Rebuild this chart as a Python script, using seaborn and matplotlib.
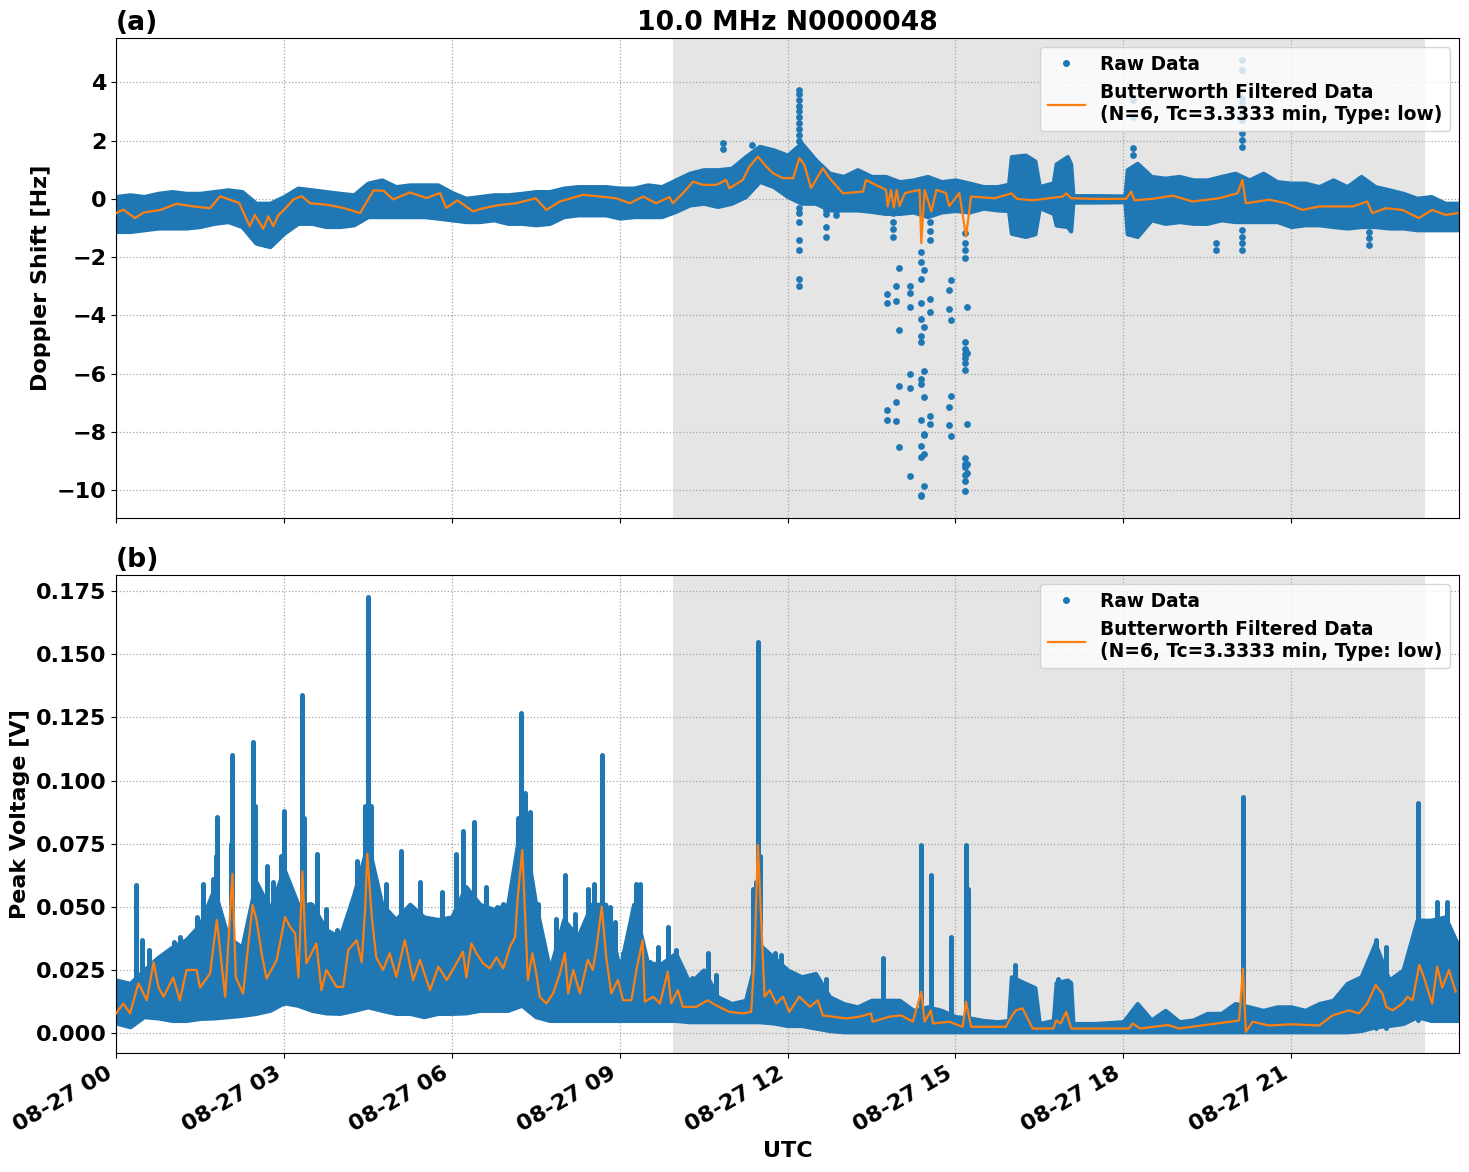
import numpy as np
import pandas as pd
import matplotlib
matplotlib.use("Agg")
import matplotlib.pyplot as plt
import matplotlib.dates as mdates
from matplotlib.lines import Line2D
import seaborn as sns

# ---------------- data ----------------
DAY = "2023-08-27"
TITLE = "10.0 MHz N0000048"
DAYLIGHT = (9.96, 23.39)  # shaded interval, hours UTC

# envelope of the raw Doppler data (hours, lower edge, upper edge)
dop_band_t = list(np.arange(64) * 0.25) + [15.95, 16.0, 16.25, 16.42, 16.5, 16.75, 16.8, 17.0, 17.06,
                                           17.1, 17.5, 18.03, 18.07, 18.25] + list(18.5 + np.arange(23) * 0.25)
dop_hi = [0.08, 0.14, 0.08, 0.19, 0.25, 0.19, 0.19, 0.25, 0.31, 0.25, -0.15, -0.15, 0.08,
          0.37, 0.31, 0.25, 0.19, 0.14, 0.54, 0.65, 0.42, 0.48, 0.48, 0.48, 0.22,
          0.02, 0.08, 0.14, 0.14, 0.19, 0.25, 0.25, 0.37, 0.42, 0.42, 0.42, 0.37,
          0.37, 0.48, 0.42, 0.65, 0.88, 1.0, 1.0, 1.05, 1.45, 1.8, 1.68, 1.5,
          1.91, 1.34, 0.88, 0.77, 1.0, 0.77, 0.77, 0.59, 0.65, 0.77, 0.59, 0.65,
          0.54, 0.42, 0.42,
          0.5, 1.45, 1.5, 1.3, 0.42, 0.55, 1.2, 1.45, 1.2, 0.11, 0.11, 0.1, 1.0, 1.22,
          0.77, 0.71, 0.77, 0.65, 0.65, 0.77, 0.88, 0.65, 0.88, 0.59, 0.54, 0.54,
          0.42, 0.65, 0.42, 0.77, 0.42, 0.31, 0.19, 0.02, 0.08, -0.15, -0.15]
dop_lo = [-1.12, -1.12, -1.06, -1.0, -1.0, -1.0, -0.95, -0.84, -0.78, -0.95, -1.52, -1.64, -1.18,
          -0.84, -0.84, -0.95, -0.95, -0.89, -0.61, -0.61, -0.61, -0.61, -0.61, -0.66, -0.72,
          -0.78, -0.78, -0.72, -0.84, -0.84, -0.89, -0.84, -0.61, -0.55, -0.55, -0.55, -0.66,
          -0.61, -0.61, -0.61, -0.43, -0.21, -0.15, -0.26, -0.15, 0.08, 0.6, 0.42, 0.08,
          -0.15, -0.15, -0.38, -0.38, -0.38, -0.43, -0.5, -0.5, -0.45, -0.61, -0.45, -0.4,
          -0.45, -0.32, -0.38,
          -0.4, -1.18, -1.29, -1.2, -0.3, -0.5, -0.9, -0.95, -1.1, -0.11, -0.11, -0.1, -1.2, -1.29,
          -0.72, -0.84, -0.78, -0.84, -0.84, -0.72, -0.78, -0.78, -0.78, -0.78, -0.95, -0.89,
          -0.89, -0.95, -1.0, -0.95, -0.95, -1.0, -1.0, -1.06, -1.06, -1.06, -1.06]

# envelope of the raw voltage data (hours, lower edge, upper edge)
volt_band_t = list(np.arange(64) * 0.25) + [15.95, 16.0, 16.25, 16.42, 16.5, 16.75, 16.8, 17.0, 17.06,
                                            17.1, 17.5, 18.0] + list(18.25 + np.arange(24) * 0.25)
volt_hi = [0.021, 0.0197, 0.025, 0.030, 0.034, 0.037, 0.043, 0.057, 0.038, 0.034, 0.060, 0.049, 0.065,
           0.051, 0.051, 0.041, 0.038, 0.055, 0.075, 0.051, 0.045, 0.051, 0.046, 0.045, 0.046,
           0.058, 0.051, 0.049, 0.051, 0.085, 0.051, 0.025, 0.045, 0.038, 0.051, 0.051, 0.025,
           0.051, 0.0276, 0.0276, 0.0316, 0.0197, 0.025, 0.0144, 0.0117, 0.013, 0.035, 0.030, 0.025,
           0.0223, 0.0236, 0.0144, 0.0117, 0.0104, 0.013, 0.013, 0.013, 0.009, 0.0104, 0.009, 0.0065,
           0.006, 0.005, 0.0045,
           0.005, 0.0223, 0.0197, 0.018, 0.0038, 0.005, 0.020, 0.021, 0.020, 0.0038, 0.0038, 0.0045,
           0.0117, 0.0052, 0.009, 0.0045, 0.0052, 0.0078, 0.0078, 0.0117, 0.0104, 0.009, 0.0104, 0.0104,
           0.009, 0.0117, 0.013, 0.0197, 0.0223, 0.0355, 0.021, 0.025, 0.0447, 0.0447, 0.046, 0.034]
volt_lo = [0.004, 0.0025, 0.0065, 0.006, 0.005, 0.005, 0.0058, 0.006, 0.0065, 0.007, 0.0078, 0.009, 0.012,
           0.011, 0.009, 0.008, 0.0078, 0.009, 0.0104, 0.009, 0.0078, 0.0078, 0.0065, 0.0078, 0.0078,
           0.008, 0.009, 0.009, 0.009, 0.011, 0.0065, 0.005, 0.005, 0.005, 0.005, 0.005, 0.005,
           0.005, 0.005, 0.005, 0.005, 0.0045, 0.0045, 0.0045, 0.0045, 0.0045, 0.0045, 0.004, 0.003,
           0.003, 0.002, 0.001, 0.0005, 0.0005, 0.0005, 0.0005, 0.0005, 0.0005, 0.0005, 0.0005, 0.0005,
           0.0005, 0.0005, 0.0005,
           0.0005, 0.0005, 0.0005, 0.0005, 0.0005, 0.0005, 0.0005, 0.0005, 0.0005, 0.0005, 0.0005, 0.0005,
           0.0005, 0.0005, 0.0005, 0.0005, 0.0005, 0.0005, 0.0005, 0.0005, 0.0005, 0.0005, 0.0005, 0.0005,
           0.0005, 0.0005, 0.0005, 0.0005, 0.001, 0.0025, 0.003, 0.0038, 0.0065, 0.005, 0.005, 0.005]

# isolated raw Doppler points outside the main band
dop_out_t = [12.2] * 17 + [12.68] * 4 + [12.86] * 2 + [13.77] * 4 + [13.88] * 4 + [13.93] * 4 + [14.0] * 5 \
    + [14.18] * 6 + [14.39] * 14 + [14.43] * 8 + [14.55] * 7 + [14.89] * 4 + [14.93] * 4 \
    + [15.18] * 16 + [15.21] * 5 + [20.13] * 14 + [18.17] * 4 + [22.39] * 3 + [19.65] * 2 + [10.84] * 2 + [11.36]
dop_out_v = [3.74, 3.6, 3.4, 3.2, 3.0, 2.8, 2.6, 2.4, 2.2, 2.0, -0.3, -0.5, -0.8, -1.4, -1.75, -2.75, -2.99,
             -0.38, -0.51, -0.96, -1.3,
             -0.4, -0.55,
             -3.26, -3.57, -7.24, -7.58,
             -0.5, -0.8, -1.05, -1.3,
             -2.99, -3.5, -6.97, -7.62,
             -2.37, -4.5, -6.42, -8.51, -0.4,
             -2.99, -3.23, -3.71, -6.0, -6.49, -9.51,
             -1.82, -2.16, -2.75, -3.57, -4.12, -4.7, -4.91, -6.18, -6.35, -7.58, -8.48, -8.85, -10.16, -10.19,
             -2.44, -4.39, -5.9, -6.79, -8.06, -8.1, -8.75, -9.85,
             -3.43, -3.88, -7.45, -7.72, -0.8, -1.1, -1.4,
             -3.12, -3.77, -7.14, -7.76,
             -2.78, -4.15, -6.76, -8.13,
             -1.17, -1.5, -1.75, -2.02, -4.92, -5.16, -5.33, -5.47, -5.64, -5.88, -8.9, -9.1, -9.2, -9.48, -9.69, -10.03,
             -3.71, -5.3, -7.72, -9.1, -9.4,
             4.77, 4.43, 3.47, 3.33, 3.16, 2.95, 2.71, 2.26, 2.02, 1.78, -1.06, -1.3, -1.5, -1.75,
             3.4, 2.8, 1.75, 1.5,
             -1.13, -1.35, -1.58,
             -1.5, -1.75,
             1.9, 1.7, 1.85]

# narrow columns of raw voltage points: (hour, bottom, top)
volt_columns = [
    (0.36, 0.012, 0.0586), (0.47, 0.010, 0.037), (0.59, 0.010, 0.033), (1.04, 0.010, 0.036),
    (1.15, 0.010, 0.038), (1.45, 0.010, 0.046), (1.55, 0.010, 0.059), (1.68, 0.012, 0.040),
    (1.74, 0.012, 0.061), (1.78, 0.012, 0.070), (1.8, 0.012, 0.0857), (2.05, 0.012, 0.075),
    (2.08, 0.012, 0.110), (2.45, 0.012, 0.1154), (2.48, 0.012, 0.09), (2.7, 0.012, 0.066),
    (2.81, 0.012, 0.06), (2.95, 0.012, 0.07), (3.0, 0.012, 0.088), (3.33, 0.012, 0.1339),
    (3.36, 0.012, 0.085), (3.46, 0.012, 0.051), (3.6, 0.012, 0.071), (3.76, 0.012, 0.049),
    (3.94, 0.012, 0.041), (4.3, 0.012, 0.068), (4.45, 0.012, 0.09), (4.5, 0.012, 0.1728),
    (4.55, 0.012, 0.09), (4.83, 0.012, 0.059), (5.1, 0.012, 0.072), (5.43, 0.012, 0.060),
    (5.58, 0.012, 0.043), (5.83, 0.012, 0.056), (5.91, 0.012, 0.045), (6.07, 0.012, 0.071),
    (6.2, 0.012, 0.080), (6.39, 0.012, 0.0837), (6.62, 0.012, 0.058), (6.68, 0.012, 0.049),
    (6.8, 0.012, 0.050), (6.92, 0.012, 0.051), (7.04, 0.012, 0.052), (7.18, 0.012, 0.085),
    (7.24, 0.012, 0.1266), (7.3, 0.012, 0.095), (7.4, 0.012, 0.0877), (7.54, 0.010, 0.051),
    (7.87, 0.008, 0.045), (8.02, 0.008, 0.0626), (8.2, 0.008, 0.047), (8.43, 0.008, 0.057),
    (8.55, 0.008, 0.059), (8.68, 0.008, 0.110), (8.82, 0.008, 0.050), (8.92, 0.008, 0.044),
    (9.06, 0.008, 0.0316), (9.3, 0.008, 0.059), (9.36, 0.008, 0.059), (9.55, 0.008, 0.028),
    (9.68, 0.008, 0.034), (9.86, 0.008, 0.042), (10.0, 0.006, 0.033), (10.3, 0.006, 0.022),
    (10.57, 0.006, 0.0316), (10.72, 0.006, 0.023), (11.38, 0.006, 0.057), (11.44, 0.006, 0.06),
    (11.47, 0.006, 0.155), (11.5, 0.006, 0.07), (11.77, 0.006, 0.0316), (11.89, 0.006, 0.031),
    (12.69, 0.003, 0.0216), (13.71, 0.002, 0.0296), (14.39, 0.002, 0.0745), (14.56, 0.002, 0.0626),
    (14.93, 0.002, 0.038), (15.19, 0.002, 0.0745), (15.22, 0.002, 0.057), (16.07, 0.002, 0.027),
    (16.83, 0.002, 0.0216), (20.14, 0.002, 0.0936), (22.51, 0.002, 0.0368), (22.69, 0.002, 0.034),
    (23.27, 0.005, 0.091), (23.61, 0.005, 0.052), (23.79, 0.005, 0.052),
]

# Butterworth-filtered curves (time in hours, value)
dop_filt_t = [0.0, 0.13, 0.34, 0.49, 0.79, 1.08, 1.38, 1.68, 1.86, 2.02, 2.2, 2.39, 2.48, 2.63, 2.72, 2.81, 2.9,
              3.0, 3.17, 3.32, 3.47, 3.76, 4.06, 4.36, 4.6, 4.78, 4.95, 5.25, 5.55, 5.79, 5.9, 6.1, 6.38,
              6.56, 6.86, 7.15, 7.5, 7.69, 7.93, 8.35, 8.64, 8.94, 9.18, 9.42, 9.65, 9.89, 9.95, 10.13,
              10.31, 10.49, 10.73, 10.9, 10.96, 11.2, 11.32, 11.47, 11.62, 11.74, 11.92, 12.1, 12.21, 12.3,
              12.42, 12.63, 12.75, 12.99, 13.35, 13.4, 13.64, 13.76, 13.79, 13.85, 13.9, 13.95, 14.0, 14.1,
              14.36, 14.39, 14.45, 14.57, 14.66, 14.83, 14.89, 15.07, 15.19, 15.28, 15.7, 16.0, 16.1, 16.38,
              16.92, 16.98, 17.07, 17.5, 18.05, 18.14, 18.2, 18.52, 18.88, 19.24, 19.71, 20.04, 20.13, 20.19,
              20.61, 20.91, 21.2, 21.5, 21.8, 22.1, 22.36, 22.45, 22.69, 22.99, 23.28, 23.52, 23.76, 23.97]
dop_filt_v = [-0.49, -0.37, -0.66, -0.47, -0.38, -0.17, -0.26, -0.32, 0.09, -0.02, -0.14, -0.94, -0.55, -1.03,
              -0.6, -0.94, -0.56, -0.38, -0.02, 0.09, -0.15, -0.2, -0.31, -0.49, 0.29, 0.28, -0.02, 0.22, 0.03,
              0.2, -0.31, -0.05, -0.43, -0.32, -0.21, -0.15, 0.02, -0.38, -0.09, 0.14, 0.08, 0.02, -0.15, 0.08,
              -0.15, 0.06, -0.15, 0.19, 0.59, 0.48, 0.48, 0.65, 0.36, 0.65, 1.11, 1.45, 1.11, 0.88, 0.71, 0.71,
              1.4, 1.17, 0.37, 1.05, 0.71, 0.19, 0.25, 0.65, 0.42, 0.31, -0.26, 0.3, -0.3, 0.3, -0.25, 0.2,
              0.31, -1.52, 0.3, -0.43, 0.31, 0.2, -0.25, 0.2, -1.29, 0.08, 0.02, 0.19, 0.0, -0.05, 0.08, 0.19,
              0.02, 0.0, 0.0, 0.25, -0.05, 0.0, 0.11, -0.09, 0.02, 0.19, 0.65, -0.15, -0.03, -0.15, -0.38,
              -0.26, -0.26, -0.26, -0.09, -0.49, -0.32, -0.38, -0.66, -0.38, -0.55, -0.49]

volt_filt_t = [0.0, 0.13, 0.25, 0.4, 0.49, 0.55, 0.67, 0.76, 0.85, 1.02, 1.14, 1.26, 1.44, 1.5, 1.68, 1.8, 1.95,
               2.08, 2.14, 2.27, 2.44, 2.51, 2.6, 2.69, 2.87, 3.02, 3.11, 3.2, 3.26, 3.33, 3.4, 3.58, 3.67,
               3.76, 3.94, 4.06, 4.15, 4.3, 4.39, 4.45, 4.49, 4.57, 4.65, 4.77, 4.89, 5.01, 5.16, 5.31, 5.43,
               5.61, 5.76, 5.91, 6.05, 6.2, 6.26, 6.35, 6.44, 6.56, 6.68, 6.8, 6.92, 7.04, 7.13, 7.18, 7.26,
               7.32, 7.36, 7.44, 7.51, 7.57, 7.69, 7.81, 7.93, 8.02, 8.08, 8.17, 8.29, 8.43, 8.52, 8.58, 8.68,
               8.76, 8.85, 8.97, 9.06, 9.21, 9.3, 9.41, 9.45, 9.6, 9.72, 9.86, 9.92, 10.04, 10.13, 10.37,
               10.57, 10.72, 10.96, 11.2, 11.35, 11.41, 11.47, 11.53, 11.59, 11.68, 11.8, 11.92, 12.03, 12.21,
               12.4, 12.54, 12.63, 13.05, 13.29, 13.49, 13.52, 13.82, 14.03, 14.24, 14.39, 14.45, 14.56, 14.6,
               14.89, 15.13, 15.19, 15.28, 15.9, 16.0, 16.08, 16.2, 16.38, 16.75, 16.8, 16.88, 16.98, 17.07,
               18.1, 18.17, 18.3, 18.8, 19.0, 20.07, 20.14, 20.19, 20.31, 20.6, 21.0, 21.5, 21.74, 22.03,
               22.21, 22.36, 22.51, 22.63, 22.7, 22.81, 22.99, 23.08, 23.17, 23.29, 23.37, 23.52, 23.61, 23.7,
               23.82, 23.94]
volt_filt_v = [0.0078, 0.0117, 0.0078, 0.0197, 0.0157, 0.013, 0.028, 0.018, 0.0144, 0.022, 0.013, 0.025, 0.025,
               0.018, 0.0236, 0.0448, 0.0144, 0.063, 0.022, 0.0157, 0.0507, 0.0448, 0.0316, 0.0216, 0.0289,
               0.046, 0.042, 0.0395, 0.022, 0.064, 0.0276, 0.0355, 0.017, 0.025, 0.0183, 0.0183, 0.0329,
               0.0368, 0.028, 0.0487, 0.071, 0.046, 0.030, 0.025, 0.0316, 0.0223, 0.0368, 0.021, 0.029, 0.017,
               0.0263, 0.021, 0.0263, 0.0322, 0.022, 0.0355, 0.0316, 0.0276, 0.0256, 0.030, 0.0256, 0.0342,
               0.038, 0.054, 0.0725, 0.042, 0.021, 0.0316, 0.0236, 0.0144, 0.0117, 0.0157, 0.0236, 0.0316,
               0.0157, 0.025, 0.0157, 0.029, 0.025, 0.033, 0.050, 0.030, 0.0157, 0.021, 0.013, 0.013, 0.025,
               0.0368, 0.0124, 0.0144, 0.0117, 0.0243, 0.0117, 0.017, 0.0104, 0.0104, 0.013, 0.011, 0.0084,
               0.0078, 0.0084, 0.030, 0.0745, 0.0448, 0.0144, 0.017, 0.0117, 0.0144, 0.0084, 0.0144, 0.0104,
               0.013, 0.007, 0.0058, 0.0065, 0.0078, 0.0045, 0.0065, 0.007, 0.0045, 0.0164, 0.0045, 0.009,
               0.0038, 0.0045, 0.0025, 0.0124, 0.0025, 0.0025, 0.0065, 0.009, 0.0098, 0.0018, 0.0018, 0.005,
               0.0038, 0.0084, 0.0018, 0.0018, 0.0038, 0.0018, 0.0032, 0.0018, 0.005, 0.0256, 0.0005, 0.0045,
               0.003, 0.0035, 0.003, 0.007, 0.009, 0.0078, 0.0117, 0.019, 0.0157, 0.0104, 0.009, 0.0117,
               0.0144, 0.013, 0.027, 0.0223, 0.0117, 0.0263, 0.018, 0.025, 0.0164]

LEGEND_LABELS = ["Raw Data", "Butterworth Filtered Data\n(N=6, Tc=3.3333 min, Type: low)"]

# ---------------- plotting ----------------
BLUE = "#1f77b4"
ORANGE = "#ff7f0e"

plt.rcParams.update({
    "font.family": ["DejaVu Sans"],
    "font.weight": "bold",
    "axes.labelweight": "bold",
    "axes.titleweight": "bold",
    "font.size": 16,
})

base = pd.Timestamp(DAY)


def to_time(hours):
    return pd.Series(base + pd.to_timedelta(np.asarray(hours, dtype=float), unit="h"))


fig = plt.figure(figsize=(14.69, 11.72), dpi=100)
ax1 = fig.add_axes([0.0790, 0.558, 0.9142, 0.4096])
ax2 = fig.add_axes([0.0790, 0.1015, 0.9142, 0.4079], sharex=ax1)

for ax in (ax1, ax2):
    ax.axvspan(to_time([DAYLIGHT[0]])[0], to_time([DAYLIGHT[1]])[0], color="gray", alpha=0.2, lw=0, zorder=0)
    ax.grid(True, linestyle=":", color="0.65", linewidth=0.9)

# panel (a)
ax1.fill_between(to_time(dop_band_t), dop_lo, dop_hi, color=BLUE, edgecolor=BLUE, linewidth=3, zorder=2)
sns.scatterplot(x=to_time(dop_out_t), y=dop_out_v, color=BLUE, s=24, linewidth=0, ax=ax1, zorder=2, legend=False)
sns.lineplot(x=to_time(dop_filt_t), y=dop_filt_v, color=ORANGE, linewidth=1.6, ax=ax1, zorder=4, legend=False)

# panel (b)
col_t = to_time([c[0] for c in volt_columns])
col_lo = [c[1] for c in volt_columns]
col_hi = [c[2] for c in volt_columns]
ax2.vlines(col_t, col_lo, col_hi, color=BLUE, linewidth=3.6, zorder=2, capstyle="round")
ax2.fill_between(to_time(volt_band_t), volt_lo, volt_hi, color=BLUE, edgecolor=BLUE, linewidth=3, zorder=2)
sns.lineplot(x=to_time(volt_filt_t), y=volt_filt_v, color=ORANGE, linewidth=1.6, ax=ax2, zorder=4, legend=False)

ax1.set_ylim(-10.95, 5.52)
ax2.set_ylim(-0.0079, 0.1814)
ax1.set_xlim(base, base + pd.Timedelta(hours=23, minutes=59, seconds=59))

ax2.xaxis.set_major_locator(mdates.HourLocator(byhour=range(0, 24, 3)))
ax2.xaxis.set_major_formatter(mdates.DateFormatter("%m-%d %H"))
plt.setp(ax1.get_xticklabels(), visible=False)
for lbl in ax2.get_xticklabels():
    lbl.set_rotation(30)
    lbl.set_ha("right")

ax1.set_xlabel("")
ax1.set_ylabel("Doppler Shift [Hz]", fontsize=16)
ax2.set_ylabel("Peak Voltage [V]", fontsize=16)
ax2.set_xlabel("UTC", fontsize=16)
ax1.tick_params(labelsize=16)
ax2.tick_params(labelsize=16)

ax1.set_title("(a)", loc="left", fontsize=19.2)
ax1.set_title(TITLE, fontsize=19.2)
ax2.set_title("(b)", loc="left", fontsize=19.2)

handles = [Line2D([], [], marker="o", linestyle="", color=BLUE, markersize=4),
           Line2D([], [], color=ORANGE, linewidth=1.6)]
for ax in (ax1, ax2):
    ax.legend(handles, LEGEND_LABELS, loc="upper right", fontsize=13.4)

fig.savefig("out.png", dpi=100)
